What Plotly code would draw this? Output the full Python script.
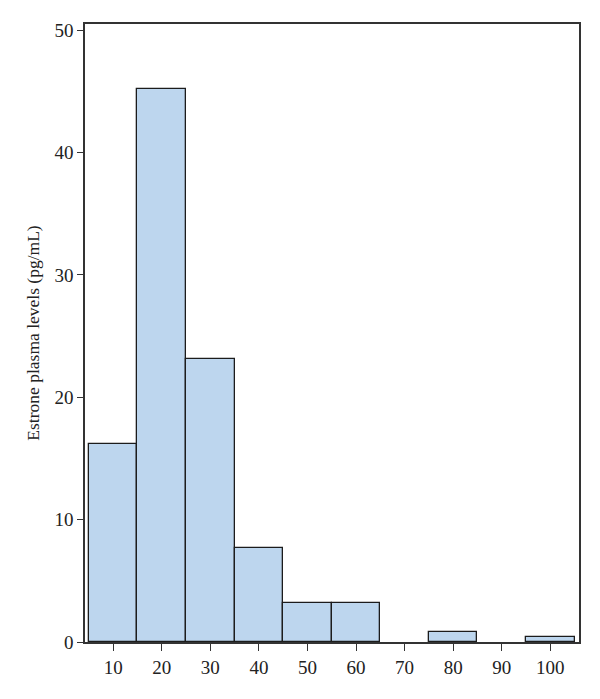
import plotly.graph_objects as go

bin_centers = [10, 20, 30, 40, 50, 60, 70, 80, 90, 100]
levels = [16.2, 45.2, 23.1, 7.7, 3.2, 3.2, 0, 0.8, 0, 0.4]
x_ticks = [10, 20, 30, 40, 50, 60, 70, 80, 90, 100]
y_ticks = [0, 10, 20, 30, 40, 50]
y_title = "Estrone plasma levels (pg/mL)"

font_family = "Liberation Serif, Times New Roman, serif"

fig = go.Figure(
    go.Bar(
        x=bin_centers,
        y=levels,
        width=10,
        marker=dict(
            color="#bdd6ee",
            line=dict(color="#1c1c1c", width=[1.3 if v > 0 else 0 for v in levels]),
        ),
    )
)

fig.update_layout(
    width=600,
    height=699,
    margin=dict(l=77, r=29, t=16, b=65),
    plot_bgcolor="white",
    paper_bgcolor="white",
    showlegend=False,
    font=dict(family=font_family, size=19, color="#222"),
    bargap=0,
)

fig.update_xaxes(
    range=[4.2, 105.9],
    tickvals=x_ticks,
    ticktext=[str(v) for v in x_ticks],
    ticks="outside",
    ticklen=7,
    tickwidth=1.3,
    tickcolor="#333",
    showline=True,
    linecolor="#333",
    linewidth=1.5,
    mirror=True,
    showgrid=False,
    zeroline=False,
    tickfont=dict(size=19),
)

fig.update_yaxes(
    range=[0, 50.5],
    tickvals=y_ticks,
    ticktext=[str(v) for v in y_ticks],
    ticks="outside",
    ticklen=6,
    tickwidth=1.3,
    tickcolor="#333",
    showline=True,
    linecolor="#333",
    linewidth=1.5,
    mirror=True,
    showgrid=False,
    zeroline=False,
    tickfont=dict(size=19),
    title=dict(text=y_title, font=dict(size=17.5), standoff=10),
)

fig.write_html("out.html")
